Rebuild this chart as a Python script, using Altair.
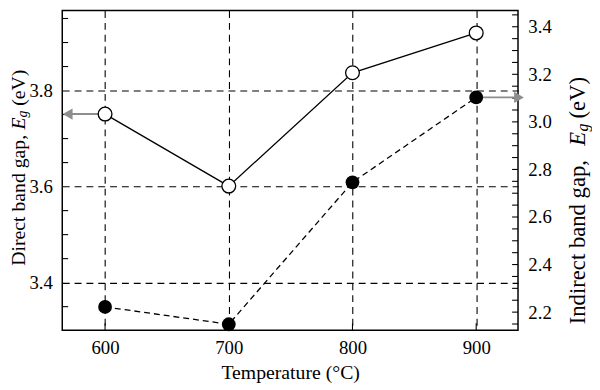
import altair as alt
import pandas as pd

# ---- data ----
temps = [600, 700, 800, 900]
direct_gap = [3.751, 3.601, 3.837, 3.920]      # open circles, left axis
indirect_gap = [2.222, 2.149, 2.746, 3.103]    # filled circles, right axis
x_ticks = [600, 700, 800, 900]
left_ticks = [3.4, 3.6, 3.8]
right_ticks = [2.2, 2.4, 2.6, 2.8, 3.0, 3.2, 3.4]
left_minor = [3.35, 3.45, 3.5, 3.55, 3.65, 3.7, 3.75, 3.85, 3.9, 3.95]
right_minor = [2.15, 2.2, 2.25, 2.3, 2.35, 2.4, 2.45, 2.5, 2.55, 2.6, 2.65, 2.7,
               2.75, 2.8, 2.85, 2.9, 2.95, 3.0, 3.05, 3.1, 3.15, 3.2, 3.25, 3.3,
               3.35, 3.4, 3.45]
x_domain = [565.4, 933.8]
left_domain = [3.301, 3.9665]
right_domain = [2.124, 3.468]

W, H = 462, 324
FONT = "Liberation Serif"
GRAY = "#8e8e8e"

df = pd.DataFrame({"T": temps, "direct": direct_gap, "indirect": indirect_gap})
df_lminor = pd.DataFrame({"v": left_minor})
df_rminor = pd.DataFrame({"v": right_minor})
df_xt = pd.DataFrame({"T": x_ticks})
one = pd.DataFrame({"a": [0]})

xs = alt.Scale(domain=x_domain, nice=False, zero=False)
ls = alt.Scale(domain=left_domain, nice=False, zero=False)
rs = alt.Scale(domain=right_domain, nice=False, zero=False)

xaxis = alt.Axis(values=x_ticks, grid=True, gridColor="black", gridOpacity=1,
                 gridDash=[7, 5], gridWidth=1.1, ticks=False, domain=False,
                 labelFont=FONT, labelFontSize=19, labelColor="black",
                 labelPadding=9, title="Temperature (°C)", titleFont=FONT,
                 titleFontSize=20, titleFontWeight="normal", titleColor="black",
                 titlePadding=5)
laxis = alt.Axis(orient="left", values=left_ticks, format=".1f", grid=True,
                 gridColor="black", gridOpacity=1, gridDash=[7, 5],
                 gridWidth=1.1, ticks=False, domain=False, labelFont=FONT,
                 labelFontSize=19, labelColor="black", labelPadding=10,
                 title=None)
raxis = alt.Axis(orient="right", values=right_ticks, format=".1f", grid=False,
                 ticks=False, domain=False, labelFont=FONT, labelFontSize=19,
                 labelColor="black", labelPadding=10, title=None)

base = alt.Chart(df)
X = alt.X("T:Q", scale=xs, axis=xaxis)

# ---------- left (direct) ----------
direct_line = base.mark_line(color="black", strokeWidth=1.3).encode(
    x=X, y=alt.Y("direct:Q", scale=ls, axis=laxis))
left_arrow = alt.Chart(df.iloc[[0]]).mark_rule(color=GRAY, strokeWidth=2).encode(
    x=X, x2=alt.value(8), y=alt.Y("direct:Q", scale=ls, axis=None))
left_head = alt.Chart(df.iloc[[0]]).mark_point(
    shape="triangle-left", filled=True, color=GRAY, size=130, opacity=1).encode(
    x=alt.value(5.5), y=alt.Y("direct:Q", scale=ls, axis=None))
direct_pts = base.mark_circle(size=195, color="white", stroke="black",
                              strokeWidth=1.3, opacity=1).encode(
    x=X, y=alt.Y("direct:Q", scale=ls, axis=None))
left_minor_ticks = alt.Chart(df_lminor).mark_rule(color="black", strokeWidth=1.1).encode(
    y=alt.Y("v:Q", scale=ls, axis=None), x=alt.value(0), x2=alt.value(6))
bottom_ticks = alt.Chart(df_xt).mark_rule(color="black", strokeWidth=1.1).encode(
    x=X, y=alt.value(H - 7), y2=alt.value(H))

# ---------- right (indirect) ----------
indirect_line = base.mark_line(color="black", strokeWidth=1.3,
                               strokeDash=[6, 4]).encode(
    x=X, y=alt.Y("indirect:Q", scale=rs, axis=raxis))
right_arrow = alt.Chart(df.iloc[[3]]).mark_rule(color=GRAY, strokeWidth=2).encode(
    x=X, x2=alt.value(W - 2), y=alt.Y("indirect:Q", scale=rs, axis=None))
right_head = alt.Chart(df.iloc[[3]]).mark_point(
    shape="triangle-right", filled=True, color=GRAY, size=130, opacity=1).encode(
    x=alt.value(W + 1), y=alt.Y("indirect:Q", scale=rs, axis=None))
indirect_pts = base.mark_circle(size=195, color="black", opacity=1).encode(
    x=X, y=alt.Y("indirect:Q", scale=rs, axis=None))
right_minor_ticks = alt.Chart(df_rminor).mark_rule(color="black", strokeWidth=1.1).encode(
    y=alt.Y("v:Q", scale=rs, axis=None), x=alt.value(W - 6), x2=alt.value(W))


def txt(text, x, y, size=20, italic=False):
    return alt.Chart(one).mark_text(
        text=text, font=FONT, fontSize=size, angle=270, align="left",
        baseline="middle", color="black",
        fontStyle="italic" if italic else "normal").encode(
        x=alt.value(x), y=alt.value(y))


# axis titles built from pieces (italic E with subscript g)
left_title = [
    txt("Direct band gap,", -44, 258.7),
    txt("E", -44, 120.5, italic=True),
    txt("g", -39.5, 108.3, size=14, italic=True),
    txt("(eV)", -44, 96.5),
]
right_title = [
    txt("Indirect band gap,", 523, 318, size=23),
    txt("E", 523, 137, size=23, italic=True),
    txt("g", 528, 122.5, size=16, italic=True),
    txt("(eV)", 523, 109.5, size=23),
]

chart = alt.layer(
    left_minor_ticks, right_minor_ticks, bottom_ticks,
    direct_line, indirect_line, left_arrow, right_arrow,
    left_head, right_head, direct_pts, indirect_pts,
    *left_title, *right_title,
).resolve_scale(y="independent").properties(
    width=W, height=H,
    padding={"left": 55, "top": 0, "right": 75, "bottom": 58},
    autosize=alt.AutoSizeParams(type="none"),
).configure_view(stroke="black", strokeWidth=1.5)

chart.save("out.html", embed_options={"renderer": "svg", "actions": False})
